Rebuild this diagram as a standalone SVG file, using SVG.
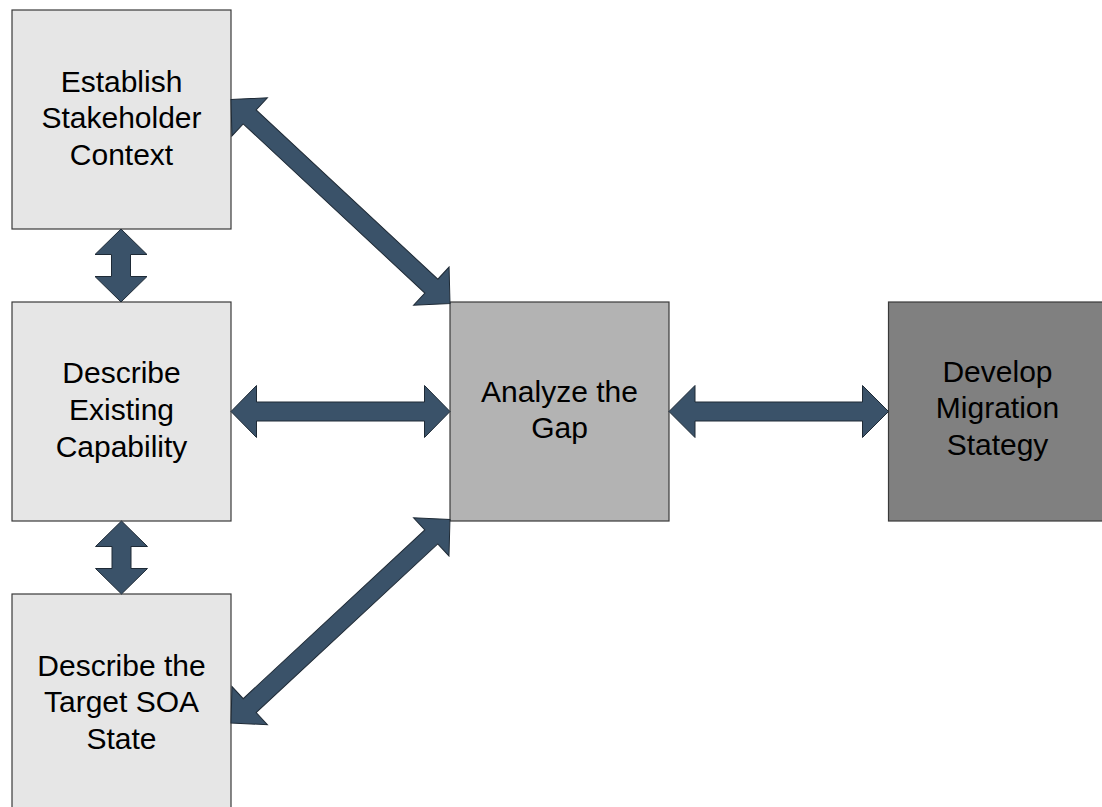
<svg xmlns="http://www.w3.org/2000/svg" width="1102" height="807" viewBox="0 0 1102 807">
<style>
.box{stroke:#3a3a3a;stroke-width:1.2}
.light{fill:#e6e6e6}
.mid{fill:#b3b3b3}
.dark{fill:#808080}
.lbl{font-family:"Liberation Sans",Arial,sans-serif;font-size:30px;fill:#000;text-anchor:middle}
.arr{fill:#3a5269;stroke:#1e2a36;stroke-width:1;stroke-linejoin:miter}
</style>
<rect width="1102" height="807" fill="#fff"/>
<g id="establish">
<rect class="box light" x="12" y="10" width="219" height="219"/>
<text class="lbl" x="121.5" y="91.7">Establish</text>
<text class="lbl" x="121.5" y="128.3">Stakeholder</text>
<text class="lbl" x="121.5" y="165">Context</text>
</g>
<g id="describe-existing">
<rect class="box light" x="12" y="302" width="219" height="219"/>
<text class="lbl" x="121.5" y="383.3">Describe</text>
<text class="lbl" x="121.5" y="420">Existing</text>
<text class="lbl" x="121.5" y="456.7">Capability</text>
</g>
<g id="describe-target">
<rect class="box light" x="12" y="594" width="219" height="230"/>
<text class="lbl" x="121.5" y="675.7">Describe the</text>
<text class="lbl" x="121.5" y="712.3">Target SOA</text>
<text class="lbl" x="121.5" y="748.7">State</text>
</g>
<g id="analyze">
<rect class="box mid" x="450" y="302" width="219" height="219"/>
<text class="lbl" x="559.5" y="401.7">Analyze the</text>
<text class="lbl" x="559.5" y="438.3">Gap</text>
</g>
<g id="develop">
<rect class="box dark" x="888.5" y="302" width="230" height="219"/>
<text class="lbl" x="997.5" y="381.7">Develop</text>
<text class="lbl" x="997.5" y="418.3">Migration</text>
<text class="lbl" x="997.5" y="455">Stategy</text>
</g>
<g id="connectors">
<polygon class="arr" points="121,229 147,254.5 130.5,254.5 130.5,276.5 147,276.5 121,302 95,276.5 111.5,276.5 111.5,254.5 95,254.5"/>
<polygon class="arr" points="121.5,521 147.5,546.5 131,546.5 131,568.5 147.5,568.5 121.5,594 95.5,568.5 112,568.5 112,546.5 95.5,546.5"/>
<polygon class="arr" points="231,411.5 256.5,385.5 256.5,402 424.5,402 424.5,385.5 450,411.5 424.5,437.5 424.5,421 256.5,421 256.5,437.5"/>
<polygon class="arr" points="669,411.5 695,385.5 695,402 862.5,402 862.5,385.5 888.5,411.5 862.5,437.5 862.5,421 695,421 695,437.5"/>
<polygon class="arr" transform="translate(231,99.5) rotate(42.97)" points="0,0 25.5,-26 25.5,-9.5 273.8,-9.5 273.8,-26 299.3,0 273.8,26 273.8,9.5 25.5,9.5 25.5,26"/>
<polygon class="arr" transform="translate(231,723) rotate(-42.9)" points="0,0 25.5,-26 25.5,-9.5 273.4,-9.5 273.4,-26 298.9,0 273.4,26 273.4,9.5 25.5,9.5 25.5,26"/>
</g>
</svg>
